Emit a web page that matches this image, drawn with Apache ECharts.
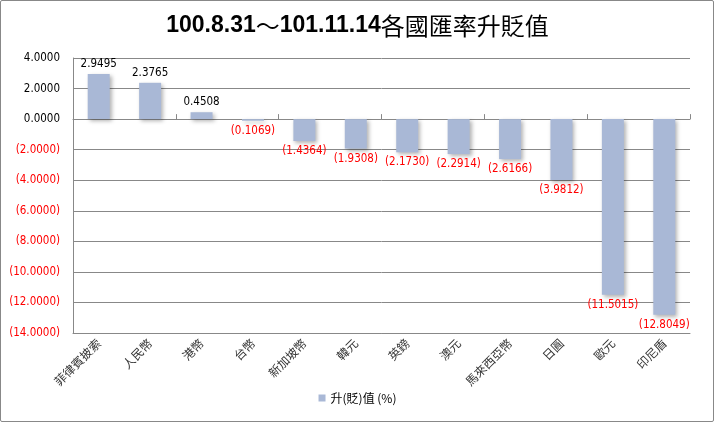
<!DOCTYPE html>
<html><head><meta charset="utf-8">
<script src="https://cdn.jsdelivr.net/npm/echarts@6/dist/echarts.min.js"></script>
<style>
html,body{margin:0;padding:0;background:#fff;}
#frame{position:absolute;left:0;top:0;width:712px;height:420px;border:1px solid #888;border-radius:2px;}
#c{position:absolute;left:0;top:0;width:715px;height:423px;}
</style></head>
<body><div id="frame"></div><div id="c"></div>
<script>
const titleStart = '100.8.31';
const titleSep = '～';
const titleEnd = '101.11.14';
const titleCjk = '各國匯率升貶值';
const seriesName = '升(貶)值 (%)';
const categories = ['菲律賓披索','人民幣','港幣','台幣','新加坡幣','韓元','英鎊','澳元','馬來西亞幣','日圓','歐元','印尼盾'];
const values = [2.9495, 2.3765, 0.4508, -0.1069, -1.4364, -1.9308, -2.1730, -2.2914, -2.6166, -3.9812, -11.5015, -12.8049];
const yMin = -14, yMax = 4, yStep = 2;

function fmt(v){
  const s = Math.abs(v).toFixed(4);
  return v < 0 ? '(' + s + ')' : s;
}
const chart = echarts.init(document.getElementById('c'));
const font = '"DejaVu Sans Condensed", "DejaVu Sans", sans-serif';
chart.setOption({
  animation: false,
  title: {
    text: '{n|' + titleStart + '}{c|' + titleSep + '}{n|' + titleEnd + '}{c|' + titleCjk + '}', left: 'center', top: 9,
    textStyle: {
      rich: {
        n: {fontFamily: '"Liberation Sans", sans-serif', fontSize: 23, fontWeight: 'bold', color: '#000'},
        c: {fontFamily: '"Noto Sans CJK TC", sans-serif', fontSize: 24, fontWeight: 'normal', color: '#000'}
      }
    }
  },
  legend: {
    bottom: 14, left: 'center', itemWidth: 7, itemHeight: 7, itemGap: 5,
    icon: 'rect',
    textStyle: {fontFamily: '"Noto Sans CJK TC", sans-serif', fontSize: 12, color: '#000'},
    data: [seriesName]
  },
  grid: {left: 73, right: 25, top: 58, bottom: 90},
  xAxis: [{
    type: 'category', data: categories, position: 'bottom',
    axisLine: {show: true, onZero: false, lineStyle: {color: '#888'}},
    axisTick: {show: false},
    axisLabel: {rotate: 45, interval: 0, fontFamily: '"Noto Sans CJK TC", sans-serif', fontSize: 12, color: '#333', margin: 8}
  },{
    type: 'category', data: categories, position: 'bottom',
    axisLine: {show: true, onZero: true, lineStyle: {color: '#888'}},
    axisTick: {show: true, inside: true, length: 5, lineStyle: {color: '#888'}},
    axisLabel: {show: false}
  }],
  yAxis: {
    type: 'value', min: yMin, max: yMax, interval: yStep,
    axisLine: {show: true, lineStyle: {color: '#888'}},
    axisTick: {show: false},
    splitLine: {lineStyle: {color: '#888'}},
    axisLabel: {
      fontFamily: font, fontSize: 11.5, margin: 13,
      formatter: v => fmt(v),
      color: v => (v < 0 ? '#ff0000' : '#000')
    }
  },
  series: [{
    name: seriesName, type: 'bar', xAxisIndex: 0,
    data: values.map(v => ({
      value: v,
      label: {position: v < 0 ? 'bottom' : 'top', color: v < 0 ? '#ff0000' : '#000'}
    })),
    barWidth: 22,
    itemStyle: {color: '#A9B8D6',
      shadowColor: 'rgba(0,0,0,0.3)', shadowBlur: 4, shadowOffsetX: 2, shadowOffsetY: 2},
    label: {show: true, fontFamily: font, fontSize: 11.5, distance: 4, formatter: p => fmt(p.value)}
  }]
});
</script></body></html>
